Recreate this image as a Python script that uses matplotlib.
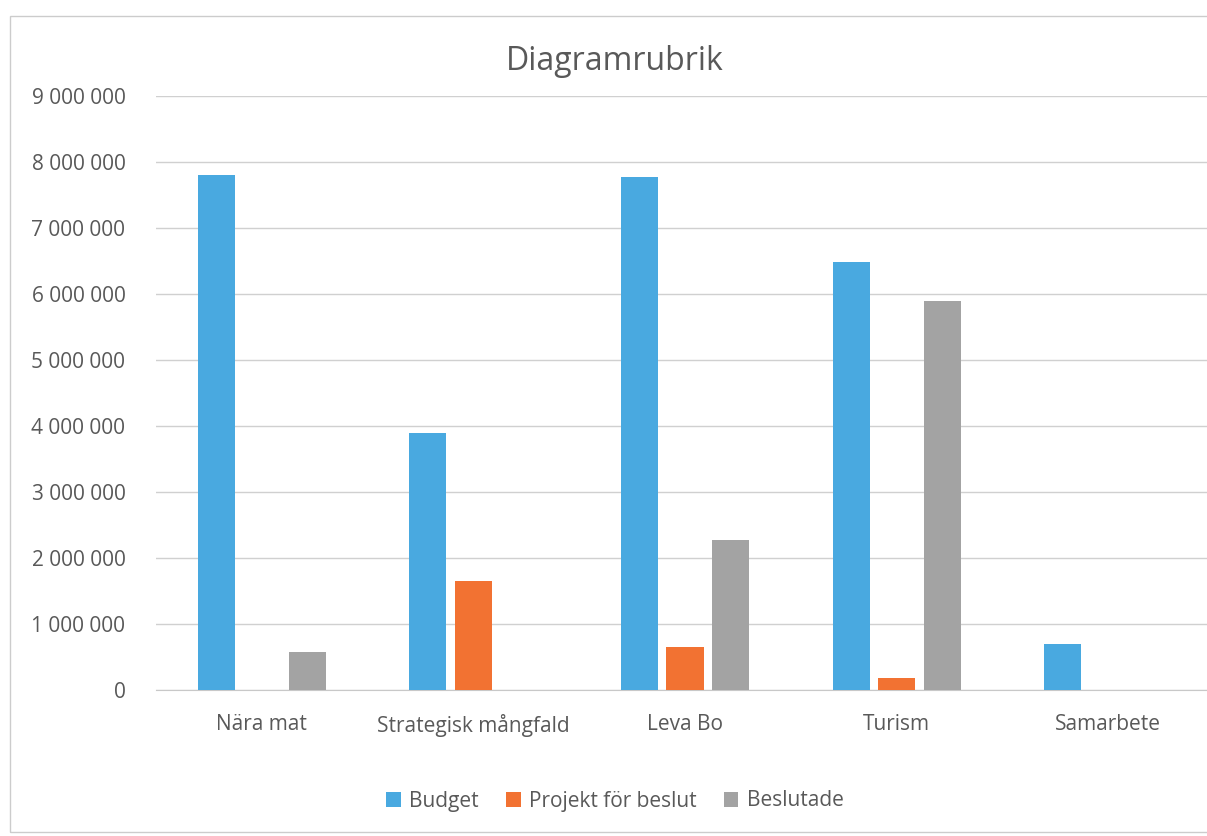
import numpy as np
import matplotlib.pyplot as plt
from matplotlib.ticker import FuncFormatter

# data
kategorier = ['Nära mat', 'Strategisk mångfald', 'Leva Bo', 'Turism', 'Samarbete']
budget = [7800000, 3900000, 7780000, 6480000, 700000]
projekt = [0, 1650000, 650000, 180000, 0]
beslutade = [570000, 0, 2270000, 5900000, 0]
serier = ['Budget', 'Projekt för beslut', 'Beslutade']
farger = ['#49a9e0', '#f27232', '#a3a3a3']

plt.rcParams['font.family'] = ['Open Sans', 'DejaVu Sans']

W, H = 1207, 836
fig = plt.figure(figsize=(W / 100, H / 100), dpi=100)
# plot area runs past the right edge (the scan is cut off there)
ax = fig.add_axes([156 / W, 1 - 690 / H, 1058 / W, (690 - 96) / H])

x = np.arange(len(kategorier))
w = 0.175
off = 0.215
for i, (vals, namn, f) in enumerate(zip([budget, projekt, beslutade], serier, farger)):
    ax.bar(x + (i - 1) * off, vals, width=w, color=f, label=namn, zorder=3)

ax.set_xlim(-0.5, len(kategorier) - 0.5)
ax.set_ylim(0, 9000000)
ax.set_yticks(np.arange(0, 9000001, 1000000))
ax.yaxis.set_major_formatter(FuncFormatter(lambda v, p: f'{int(v):,}'.replace(',', ' ')))
ax.grid(axis='y', color='#d0d0d0', linewidth=1, zorder=0)
for s in ['top', 'right', 'left']:
    ax.spines[s].set_visible(False)
ax.spines['bottom'].set_color('#c8c8c8')
ax.tick_params(axis='both', length=0, labelsize=15, colors='#595959')
ax.tick_params(axis='y', pad=22)
ax.tick_params(axis='x', pad=17)
ax.set_xticks(x)
ax.set_xticklabels(kategorier)

fig.text(615 / W, 1 - 62 / H, 'Diagramrubrik', fontsize=23, color='#595959',
         ha='center', va='center')

fig.legend(loc='center', bbox_to_anchor=(615 / W, 1 - 801 / H), ncol=3, frameon=False,
           fontsize=15, labelcolor='#595959', handlelength=0.7, handleheight=0.7,
           columnspacing=1.3, handletextpad=0.4)

fig.patches.append(plt.Rectangle((10 / W, 4 / H), 1.05, 1 - 20 / H, transform=fig.transFigure,
                                 fill=False, edgecolor='#cccccc', linewidth=1))

fig.savefig('out.png', dpi=100)
